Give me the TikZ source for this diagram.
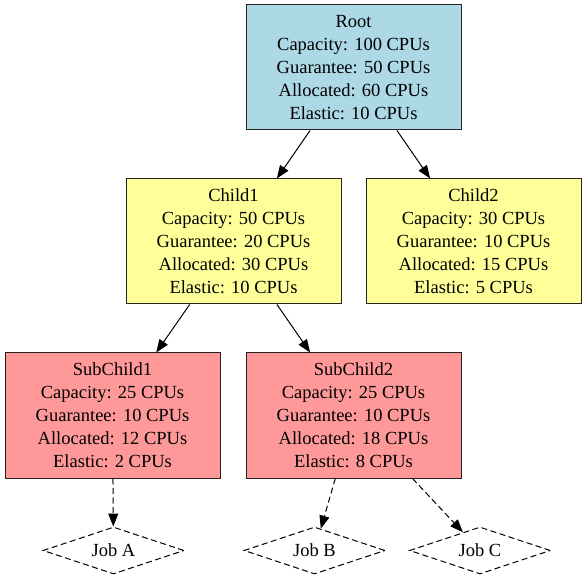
\documentclass[tikz,border=0pt]{standalone}
\usepackage{fontspec}
\setmainfont{Liberation Serif}
\usetikzlibrary{shapes.geometric,arrows.meta}
\definecolor{rootfill}{HTML}{ADD8E6}
\definecolor{childfill}{HTML}{FFFF99}
\definecolor{subfill}{HTML}{FF9999}
\definecolor{edgecol}{HTML}{222222}
\begin{document}
\begin{tikzpicture}[x=1pt,y=-1pt,
  box/.style={draw=edgecol,line width=1pt,rectangle,minimum width=215pt,minimum height=125pt,inner sep=0pt,align=center,font=\fontsize{18.5}{23}\selectfont},
  job/.style={draw=black,dashed,dash pattern=on 6pt off 3.5pt,line width=1pt,diamond,aspect=3,minimum width=141pt,minimum height=47pt,inner sep=0pt,font=\fontsize{18.5}{20}\selectfont},
  arr/.style={draw=black,line width=1pt,-{Triangle[length=13pt,width=10pt]}},
  darr/.style={arr,dashed,dash pattern=on 6pt off 3.5pt}]
\useasboundingbox (0,0) rectangle (587,580);
\node[box,fill=rootfill] (root) at (353.5,67.5) {Root\\Capacity: 100 CPUs\\Guarantee: 50 CPUs\\Allocated: 60 CPUs\\Elastic: 10 CPUs};
\node[box,fill=childfill] (c1) at (233.5,241.5) {Child1\\Capacity: 50 CPUs\\Guarantee: 20 CPUs\\Allocated: 30 CPUs\\Elastic: 10 CPUs};
\node[box,fill=childfill] (c2) at (473.5,241.5) {Child2\\Capacity: 30 CPUs\\Guarantee: 10 CPUs\\Allocated: 15 CPUs\\Elastic: 5 CPUs};
\node[box,fill=subfill] (s1) at (112.5,415.5) {SubChild1\\Capacity: 25 CPUs\\Guarantee: 10 CPUs\\Allocated: 12 CPUs\\Elastic: 2 CPUs};
\node[box,fill=subfill] (s2) at (353.5,415.5) {SubChild2\\Capacity: 25 CPUs\\Guarantee: 10 CPUs\\Allocated: 18 CPUs\\Elastic: 8 CPUs};
\node[job] (ja) at (113.5,550.5) {Job A};
\node[job] (jb) at (314.5,550.5) {Job B};
\node[job] (jc) at (480,550.5) {Job C};
\draw[arr] (root) -- (c1);
\draw[arr] (root) -- (c2);
\draw[arr] (c1) -- (s1);
\draw[arr] (c1) -- (s2);
\draw[darr] (s1) -- (ja);
\draw[darr] (s2) -- (jb);
\draw[darr] (s2) -- (jc);
\end{tikzpicture}
\end{document}
